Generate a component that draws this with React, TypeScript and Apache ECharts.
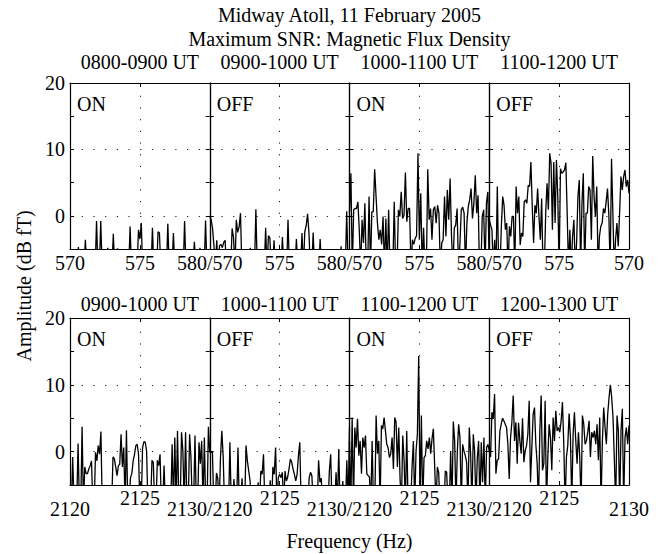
import React, { useEffect, useRef } from 'react';
import * as echarts from 'echarts';

const mainTitle = 'Midway Atoll, 11 February 2005';
const subTitle = 'Maximum SNR: Magnetic Flux Density';
const topTitles = ['0800-0900 UT', '0900-1000 UT', '1000-1100 UT', '1100-1200 UT'];
const bottomTitles = ['0900-1000 UT', '1000-1100 UT', '1100-1200 UT', '1200-1300 UT'];
const modes = ['ON', 'OFF', 'ON', 'OFF'];
const topRange = [570, 580];
const bottomRange = [2120, 2130];
const yRange = [-5, 20];
const yLabelValues = [0, 10, 20];
const gridYValues = [0, 10];

// Top row: 570-580 Hz (amplitude, dB fT; values below -5 fall under the axis)
const top1 = [-8, -8, -8, -8, -8, -8, -4.7, -8, -8, -8,
  -8, -3.6, -8, -8, -8, -8, -8, -8, -8, -0.8,
  -8, -8, -0.8, -8, -8, -8, -8, -4.8, -8, -8,
  -8, -2.7, -8, -8, -4.9, -8, -8, -8, -8, -8,
  -8, -8, -8, -1.6, -8, -8, -8, -8, -8, -2.1,
  -3.5, -1.1, -8, -8, -8, -8, -8, -8, -8, -1.8,
  -8, -8, -8, -2.4, -2.6, -8, -8, -8, -8, -8,
  -1.2, -8, -8, -8, -2.6, -8, -8, -8, -8, -8,
  -8, -8, -0.8, -8, -8, -8, -8, -8, -8, -3.9,
  -8, -8, -8, -4.8, -8, -8, -8, -0.7, -8, -8,
  -8];
const top2 = [0, -0.6, -1.9, -4.5, -8, -3.7, -8, -4.5, -4.3, -4.8,
  -4, -3.7, -8, -8, -8, -8, -1.9, -3.2, -8, -0.6,
  -2.5, -1.7, 0.4, -8, -8, -8, -8, -8, -8, -4.8,
  -8, -8, -8, 1.0, -8, -8, -8, -8, -8, -8,
  -1.8, -8, -3.0, -3.3, -8, -8, -3.7, -8, -8, -8,
  -8, -8, -3.2, -8, -8, -8, -0.6, -8, -8, -8,
  -8, -8, -3.5, -8, -8, -8, -2.6, -8, -2.4, -1.5,
  0.3, -2.6, -8, -8, -2.5, -8, -8, -8, -8, -3.5,
  -8, -8, -8, -8, -8, -8, -8, -8, -8, -8,
  -8, -8, -8, -8, -4.6, -8, -8, -8, 0.7, -8,
  -8];
const top3 = [0.6, 6.4, -8, 0.9, 1.1, 1.1, 2.1, -2.1, -8, -0.6,
  -4.1, 1.9, -8, -8, 2.9, -8, 0.6, 0.6, 7.0, 2.9,
  -1.1, -3.6, -2.1, -4.3, -0.1, -8, -0.4, -8, 0.9, -8,
  -8, -8, 2.1, -8, -8, 0.9, -0.1, 3.6, -0.4, 0.1,
  6.5, -0.9, 1.1, 1.1, -8, -3.6, -4.3, -3.4, -3.0, 9.4,
  -3.6, 3.4, -8, -1.8, -8, -8, 7.0, -0.6, 1.1, -3.6,
  0.9, 1.4, -1.1, 1.6, 0.4, -8, -4.1, -3.6, 2.9, -3.1,
  3.9, -0.6, 5.6, -3.1, -8, -1.8, -1.4, 1.1, -8, -4.3,
  0.9, 1.3, 0.4, -8, -1.1, 1.4, 2.4, 4.1, -0.4, 1.9,
  6.1, 0.4, 3.1, -8, -8, -0.1, 0.9, -8, 1.9, 3.6,
  -8];
const top4 = [-0.6, -1.4, -2.1, -8, -3.6, -8, 4.4, -8, -8, -1.6,
  2.9, 1.6, -2.1, -1.1, -8, -1.6, -3.1, -0.1, -0.1, -8,
  4.4, 0.4, 2.9, -4.4, -2.6, -3.1, 2.1, 2.4, 1.9, 4.6,
  4.4, 8.1, 1.4, -4.1, 1.6, 0.4, 4.1, -0.1, -3.6, 2.6,
  -8, -8, 0.4, 4.9, 0.9, 9.4, 7.9, -2.1, 8.1, -1.1,
  8.4, 2.9, -8, 7.1, 6.4, 6.6, 6.9, 8.0, 0.4, -8,
  -2.1, -8, -3.1, -0.6, -8, -4.1, 2.9, 5.4, -8, 1.9,
  6.4, -8, 0.4, 0.4, 4.4, 3.9, -3.6, 9.0, 2.9, -0.1,
  4.4, -8, -3.1, -1.6, -1.1, 1.1, 0.4, 2.1, 4.1, 0.1,
  -8, 8.6, 0.4, -8, -3.6, -1.1, -4.6, 0.4, 5.9, 3.9,
  5.9, 6.9, 4.4, 5.4, 3.4];

// Bottom row: 2120-2130 Hz
const bottom1 = [-8, -8, -0.8, -8, -8, -8, 1.2, -8, -8, 3.7,
  -8, -2.3, -3.3, -3.3, -2.6, -2.1, -1.4, -8, -8, -0.1,
  -1.4, 0.9, -0.4, 3.0, -8, -8, -8, -8, -8, -8,
  -8, -8, -0.8, -1.1, -2.3, -3.6, -2.1, -1.9, 2.6, -2.3,
  0.6, -8, 3.2, -8, -8, -3.9, -3.3, -1.4, -0.4, 0.9,
  1.1, -0.4, -8, -8, 0.6, 1.5, 1.4, 0.1, -8, -8,
  -8, -1.3, -1.6, -8, -8, -1.3, -2.1, -0.4, -8, -8,
  -2.1, -8, -8, -8, -8, -8, 1.1, -8, 2.1, -8,
  3.1, -8, -8, 2.9, 0.1, -8, 2.9, -8, -8, 2.6,
  -0.8, -8, -8, 2.4, -8, -8, 1.4, -1.8, 1.6, -8,
  2.1, -8, -8, 3.7, -0.1];
const bottom2 = [-0.1, -0.1, -0.1, -8, -8, -3.2, -4.1, -8, -0.8, 3.1,
  -0.8, -8, -8, -8, -8, 1.4, -8, -8, -4.1, -8,
  -8, 0.6, -8, -8, -4.0, -8, -8, 0.9, -1.4, -2.9,
  -4.4, -8, -8, -8, -8, -8, -4.6, -8, -2.9, -3.4,
  -0.4, -8, -8, -8, -8, -4.3, -8, -2.3, -3.4, 0.6,
  -8, -3.9, -3.4, -3.9, -3.1, -8, -2.9, -4.4, -3.8, -2.6,
  -1.1, -1.6, -2.6, -3.4, -4.4, -3.4, -0.6, 1.4, -8, -8,
  -8, -8, -8, -8, -3.9, -3.1, -3.6, -8, -8, -8,
  -8, -1.3, -4.6, -4.0, -8, -8, -8, -8, -8, -2.9,
  -0.4, -8, -8, -8, -3.1, -8, 0.4, -8, -8, -4.4,
  -8, -8, -1.3, -8, 3.6];
const bottom3 = [1.6, -8, 5.1, -8, 3.6, 0.6, 4.9, -0.6, 1.6, -3.3,
  2.1, 0.6, 2.4, -3.3, -3.6, -3.8, -8, 1.6, -8, -8,
  5.4, -0.3, 1.6, -8, 3.9, 3.4, 5.1, 3.1, 1.1, 0.6,
  -0.9, -0.3, 2.1, -2.6, 5.1, 4.4, -2.3, 3.6, -4.1, -8,
  2.4, -1.3, -8, 3.1, -8, -8, -8, -2.3, 1.6, -8,
  0.1, 2.6, 14.3, -8, 5.4, -8, -0.9, -0.6, 1.6, 0.4,
  2.1, -0.3, 1.9, 3.4, -2.3, -8, -2.3, -3.1, -8, -8,
  -8, -8, -2.9, -3.1, -8, -8, 0.1, -8, 4.5, 1.6,
  -8, -0.1, 4.1, 2.1, -8, 1.1, 0.1, -0.6, -1.6, -8,
  3.6, -0.3, -8, 2.6, 0.1, -8, -1.1, 1.6, -8, 1.4,
  -4.6, 2.1, -8, 0.6, 1.1, 0.1];
const bottom4 = [0.9, -0.8, 5.9, 4.9, 8.6, -3.3, -1.3, -1.1, 3.1, 4.1,
  5.0, 4.6, 4.1, 3.6, 1.1, -4.1, 2.1, 4.4, 8.4, 1.6,
  4.4, -1.8, 4.3, 1.6, -0.3, 5.0, -1.6, 0.1, 0.9, 2.6,
  7.6, -4.6, 0.6, 5.6, 6.6, 1.1, -1.8, -8, 3.1, 8.4,
  -2.8, -1.8, 7.6, -8, -0.8, 4.1, 2.1, -2.8, 5.1, 1.6,
  6.1, 3.1, 3.6, 2.9, 4.6, 7.4, 1.1, -8, -0.8, 0.9,
  5.7, 2.1, -8, 2.6, 5.9, 1.6, -1.8, 2.9, -0.8, -8,
  5.4, 4.1, 1.1, 1.6, 2.9, 4.6, -0.8, 2.9, 2.1, 3.1,
  1.1, 4.1, -1.3, 5.1, -8, 1.6, 6.6, 3.6, 1.1, 5.6,
  8.1, 10.0, 8.1, 5.1, -1.3, -8, 5.4, 3.1, -8, 3.1,
  6.4, -8, 2.1, 3.6, 1.1, 3.9];

const topSeries = [top1, top2, top3, top4];
const bottomSeries = [bottom1, bottom2, bottom3, bottom4];

const FONT = '"Liberation Serif", "Times New Roman", Times, serif';
const LEFT = 70;
const PW = 139.75;
const ROW_TOP = [83, 318];
const PH = [166, 167];

function toPairs(vals: number[], range: number[]) {
  const step = (range[1] - range[0]) / (vals.length - 1);
  return vals.map((v, i) => [range[0] + i * step, v]);
}

export default function App() {
  const ref = useRef<HTMLDivElement>(null);
  useEffect(() => {
    const chart = echarts.init(ref.current!, null, { renderer: 'svg' });
    const grid: any[] = [];
    const xAxis: any[] = [];
    const yAxis: any[] = [];
    const series: any[] = [];
    const graphic: any[] = [];
    const axisLine = { show: true, onZero: false, lineStyle: { color: '#000', width: 1.2 } };
    const axisTick = { show: true, inside: true, length: 4, lineStyle: { color: '#000', width: 1 } };
    const dotted = { color: '#000', width: 1, type: [1.2, 10.5], opacity: 0.9 };

    for (let r = 0; r < 2; r++) {
      const range = r === 0 ? topRange : bottomRange;
      const titles = r === 0 ? topTitles : bottomTitles;
      const data = r === 0 ? topSeries : bottomSeries;
      const mid = (range[0] + range[1]) / 2;
      for (let c = 0; c < 4; c++) {
        const k = r * 4 + c;
        grid.push({ left: LEFT + c * PW, top: ROW_TOP[r], width: PW, height: PH[r] });
        xAxis.push({
          gridIndex: k, type: 'value', min: range[0], max: range[1], interval: 5,
          position: 'bottom', axisLine, axisTick, splitLine: { show: false },
          axisLabel: {
            show: true, showMinLabel: true, showMaxLabel: true,
            margin: r === 0 ? 4 : 3, color: '#000', fontSize: 20, fontFamily: FONT,
            formatter: (v: number) => {
              if (r === 0) {
                if (v === range[0]) return c === 0 ? '570' : '580/570';
                if (v === mid) return '575';
                return c === 3 ? '570' : '';
              }
              if (v === range[0]) return c === 0 ? '{lo|2120}' : '{lo|2130/2120}';
              if (v === mid) return '2125';
              return c === 3 ? '{lo|2130}' : '';
            },
            rich: { lo: { fontSize: 20, fontFamily: FONT, color: '#000', padding: [11, 0, 0, 0] } },
          },
        });
        xAxis.push({
          gridIndex: k, type: 'value', min: range[0], max: range[1], interval: 5,
          position: 'top', axisLine, axisTick, splitLine: { show: false },
          axisLabel: { show: false },
          name: titles[c], nameLocation: 'middle', nameGap: r === 0 ? 11 : 4,
          nameTextStyle: { fontSize: 20, fontFamily: FONT, color: '#000' },
        });
        yAxis.push({
          gridIndex: k, type: 'value', min: yRange[0], max: yRange[1], interval: 5,
          position: 'left', axisLine, axisTick, splitLine: { show: false },
          axisLabel: {
            show: c === 0, margin: 5, color: '#000', fontSize: 20, fontFamily: FONT,
            showMinLabel: true, showMaxLabel: true,
            formatter: (v: number) => (yLabelValues.indexOf(v) >= 0 ? String(v) : ''),
          },
        });
        yAxis.push({
          gridIndex: k, type: 'value', min: yRange[0], max: yRange[1], interval: 5,
          position: 'right', axisLine, axisTick, splitLine: { show: false },
          axisLabel: { show: false },
        });
        series.push({
          type: 'line', xAxisIndex: 2 * k, yAxisIndex: 2 * k,
          data: toPairs(data[c], range), showSymbol: false, symbol: 'none', clip: true,
          lineStyle: { color: '#000', width: 1.3 },
          markLine: {
            silent: true, symbol: ['none', 'none'], label: { show: false }, animation: false,
            lineStyle: dotted,
            data: [...gridYValues.map((y) => ({ yAxis: y })), { xAxis: mid }],
          },
        });
        graphic.push({
          type: 'text', left: LEFT + c * PW + 7, top: ROW_TOP[r] + 11,
          style: { text: modes[c], fontSize: 20, fontFamily: FONT, fill: '#000' },
        });
      }
    }
    const cx = LEFT + 2 * PW;
    graphic.push(
      { type: 'text', x: cx, y: 15, style: { text: mainTitle, fontSize: 20, fontFamily: FONT, fill: '#000', align: 'center', verticalAlign: 'middle' } },
      { type: 'text', x: cx, y: 39, style: { text: subTitle, fontSize: 20, fontFamily: FONT, fill: '#000', align: 'center', verticalAlign: 'middle' } },
      { type: 'text', x: cx, y: 541, style: { text: 'Frequency (Hz)', fontSize: 20, fontFamily: FONT, fill: '#000', align: 'center', verticalAlign: 'middle' } },
      { type: 'text', x: 24, y: 286, rotation: Math.PI / 2, style: { text: 'Amplitude (dB fT)', fontSize: 20, fontFamily: FONT, fill: '#000', align: 'center', verticalAlign: 'middle' } },
    );

    chart.setOption({
      animation: false,
      backgroundColor: '#fff',
      grid, xAxis, yAxis, series, graphic,
    });
    return () => chart.dispose();
  }, []);
  return <div ref={ref} style={{ position: 'absolute', left: 0, top: 0, width: 660, height: 554 }} />;
}
